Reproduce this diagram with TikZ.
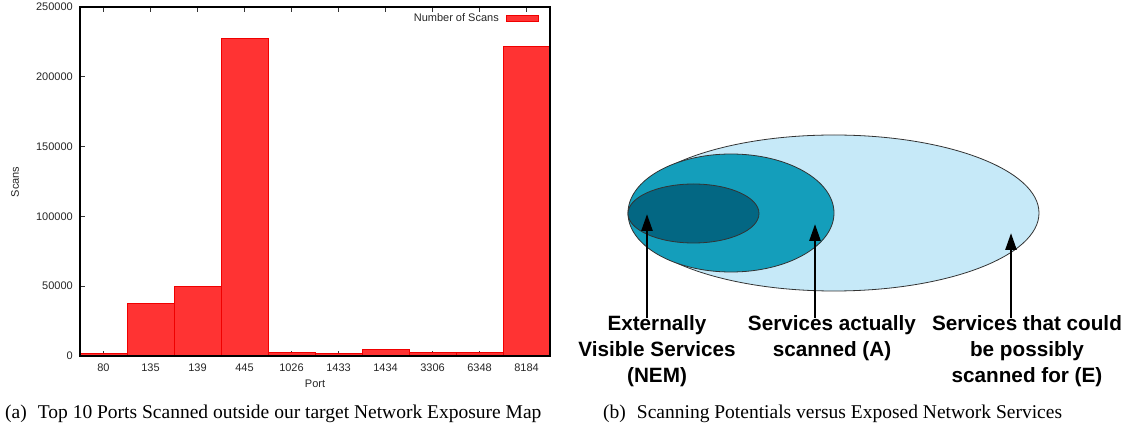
\documentclass[tikz,border=0pt]{standalone}
\usepackage{fontspec}
\setmainfont{Liberation Serif}
\newfontfamily\arial{Liberation Sans}
\usetikzlibrary{arrows.meta,shapes.geometric}
\definecolor{barred}{RGB}{255,51,51}
\definecolor{baredge}{RGB}{240,0,0}
\definecolor{setE}{RGB}{198,233,248}
\definecolor{setA}{RGB}{20,158,187}
\definecolor{setN}{RGB}{3,103,131}
\tikzset{
  bar/.style={fill=barred, draw=baredge, line width=0.8pt},
  tick/.style={line width=0.8pt, black!80},
  ticklabel/.style={font=\arial\fontsize{11}{13}\selectfont, text=black!85, inner sep=0pt},
  setshape/.style={draw=black!80, line width=0.8pt, ellipse, inner sep=0pt},
  setlabel/.style={font=\arial\bfseries\fontsize{20.7}{26}\selectfont, align=center, inner sep=0pt},
  pointer/.style={line width=2.6pt, -{Triangle[width=11pt,length=17pt]}},
  captiontext/.style={font=\fontsize{19.5}{22}\selectfont, inner sep=0pt, anchor=base west}
}
\begin{document}
\begin{tikzpicture}[x=1pt,y=-1pt]
\useasboundingbox (0,0) rectangle (1125,427);

% ---------- bar chart (values in thousands of scans) ----------
% ticks (behind the bars)
\foreach \i in {0,...,9} {
  \draw[tick] ({103.5+47*\i},356) -- ({103.5+47*\i},351);
  \draw[tick] ({103.5+47*\i},7) -- ({103.5+47*\i},12);
}
\foreach \v/\t in {0/0,50/50000,100/100000,150/150000,200/200000,250/250000} {
  \draw[tick] (80,{356-\v*1.396}) -- (85,{356-\v*1.396});
  \draw[tick] (550,{356-\v*1.396}) -- (545,{356-\v*1.396});
  \node[ticklabel, anchor=east] (yl\v) at (73,{356-\v*1.396}) {\t};
}
% bars
\foreach \i/\v in {0/2.0,1/37.5,2/49.5,3/227.5,4/2.7,5/2.0,6/4.8,7/2.7,8/2.9,9/222} {
  \draw[bar] ({80+47*\i},356) rectangle ({127+47*\i},{356-\v*1.396});
}
% frame
\draw[line width=1.2pt] (80,7) rectangle (550,356);
% port labels
\foreach \i/\p in {0/80,1/135,2/139,3/445,4/1026,5/1433,6/1434,7/3306,8/6348,9/8184} {
  \node[ticklabel] (xl\i) at ({103.5+47*\i},368) {\p};
}
\node[ticklabel] (xaxis) at (315,384) {Port};
\node[ticklabel, rotate=90] (yaxis) at (15,182) {Scans};
% legend
\node[ticklabel, anchor=east] (legtext) at (499,18) {Number of Scans};
\draw[bar] (506,15) rectangle (538,21);

% ---------- service sets ----------
\node[setshape, fill=setE, minimum width=410pt, minimum height=156pt] (E) at (834,213) {};
\node[setshape, fill=setA, minimum width=206pt, minimum height=118pt] (A) at (731,213) {};
\node[setshape, fill=setN, minimum width=131pt, minimum height=59pt] (N) at (693.5,213.5) {};

\node[setlabel, anchor=north] (labN) at (657,315) {Externally\\Visible Services\\(NEM)};
\node[setlabel, anchor=north] (labA) at (832,315) {Services actually\\scanned (A)};
\node[setlabel, anchor=north] (labE) at (1027,315) {Services that could\\be possibly\\scanned for (E)};

\coordinate (tipN) at (647,214);
\coordinate (tipA) at (815,224);
\coordinate (tipE) at (1011,233);
\draw[pointer] ([yshift=-3pt]labN.north -| tipN) -- (tipN);
\draw[pointer] ([yshift=-3pt]labA.north -| tipA) -- (tipA);
\draw[pointer] ([yshift=-3pt]labE.north -| tipE) -- (tipE);

% ---------- captions ----------
\node[captiontext] (capa) at (5,419) {(a)\hspace{11pt}Top 10 Ports Scanned outside our target Network Exposure Map};
\node[captiontext] (capb) at (603,419) {(b)\hspace{11pt}Scanning Potentials versus Exposed Network Services};
\end{tikzpicture}
\end{document}
